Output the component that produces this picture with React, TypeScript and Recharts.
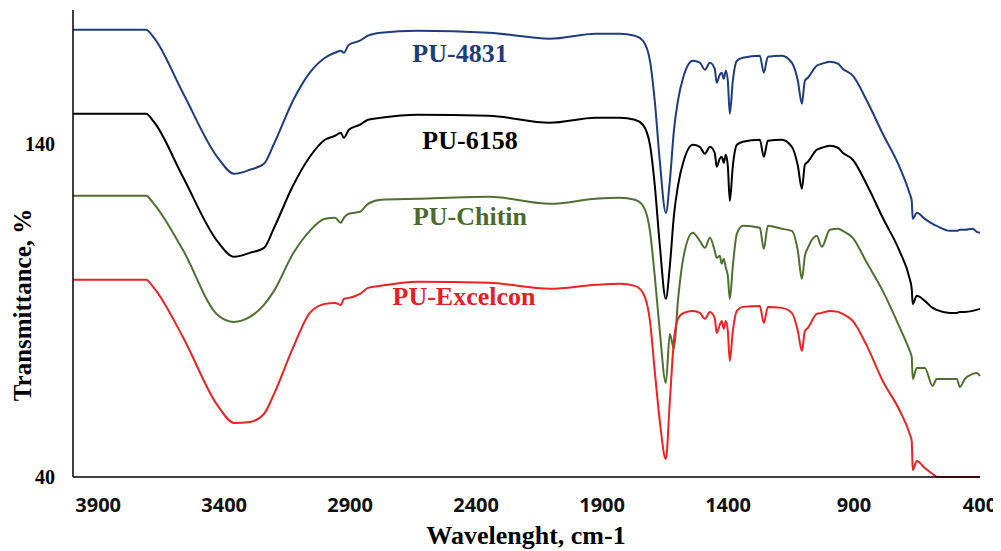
import React from 'react';
import { LineChart, Line, XAxis, YAxis, Customized } from 'recharts';

// wavenumber grid (cm-1), shared by all four spectra
const wavenumbers = [
  4000, 3710, 3679, 3564, 3425, 3361, 3298, 3242, 3202, 3127,
  3060, 3000, 2960, 2937, 2925, 2905, 2861, 2829, 2778, 2635,
  2349, 2107, 1925, 1830, 1770, 1738, 1710, 1691, 1671, 1647,
  1631, 1615, 1599, 1576, 1540, 1512, 1492, 1472, 1453, 1445,
  1433, 1425, 1417, 1409, 1401, 1393, 1381, 1365, 1341, 1274,
  1258, 1242, 1187, 1147, 1123, 1107, 1095, 1083, 1048, 1028,
  996, 964, 945, 905, 849, 786, 718, 679, 671, 667,
  651, 619, 588, 572, 520, 492, 480, 460, 429, 413,
  400,
];

const pu4831 = [
  174.1, 174.1, 171.7, 155.2, 135.7, 130.9, 132.1, 133.9, 139.9, 152.8,
  161.2, 165.7, 167.2, 167.8, 167.2, 169.6, 170.8, 172.3, 173.2, 173.8,
  173.2, 171.4, 172.9, 172.9, 172.3, 170.8, 164.8, 152.8, 134.8, 119.2,
  128.8, 143.8, 152.8, 160.3, 164.8, 164.2, 162.1, 164.2, 162.4, 158.2,
  160.6, 161.2, 159.4, 161.8, 158.8, 148.9, 158.8, 164.8, 165.7, 166.3,
  161.2, 166.0, 166.3, 164.2, 158.8, 151.9, 158.8, 159.7, 163.3, 163.9,
  164.5, 163.9, 162.4, 160.3, 152.8, 142.9, 132.7, 124.9, 122.8, 117.4,
  119.2, 117.4, 115.9, 115.3, 113.8, 113.8, 114.1, 114.1, 114.4, 113.5,
  113.2,
];

const pu6158 = [
  148.9, 148.9, 146.5, 130.0, 110.5, 106.0, 107.2, 108.7, 114.7, 127.3,
  136.0, 141.1, 142.3, 143.2, 141.7, 144.1, 145.6, 147.1, 147.7, 148.6,
  148.3, 146.2, 147.7, 147.7, 147.1, 145.6, 139.6, 127.6, 109.6, 93.4,
  103.3, 118.3, 127.3, 134.8, 139.6, 139.0, 136.9, 139.0, 137.2, 133.0,
  135.4, 136.0, 134.2, 136.6, 133.3, 122.8, 133.3, 139.6, 140.5, 141.1,
  136.0, 140.8, 141.1, 139.0, 133.3, 126.4, 133.6, 134.5, 138.1, 138.7,
  139.3, 138.7, 137.2, 135.1, 127.6, 117.7, 107.5, 99.4, 96.4, 91.9,
  94.3, 92.8, 90.7, 90.1, 89.2, 89.2, 89.5, 89.5, 89.8, 90.1,
  90.4,
];

const puChitin = [
  124.3, 124.3, 121.9, 108.1, 88.5, 86.5, 88.0, 91.6, 95.8, 106.9,
  113.8, 117.4, 117.7, 116.2, 117.7, 118.9, 119.5, 121.9, 123.1, 123.4,
  124.0, 121.9, 123.4, 123.7, 123.1, 121.3, 113.8, 100.3, 83.8, 68.2,
  82.9, 78.4, 92.8, 106.3, 113.2, 110.8, 108.7, 111.7, 107.8, 105.7,
  106.3, 103.9, 105.4, 102.7, 100.3, 93.4, 103.3, 112.9, 115.3, 114.7,
  108.4, 115.3, 114.4, 113.8, 107.8, 99.4, 106.3, 108.7, 112.3, 109.0,
  114.1, 114.4, 113.8, 111.7, 104.2, 95.8, 84.7, 77.8, 76.0, 69.4,
  72.7, 72.7, 67.3, 69.4, 69.4, 69.4, 67.0, 69.4, 70.9, 71.2,
  70.3,
];

const puExcelcon = [
  99.1, 99.1, 96.7, 82.0, 61.3, 56.2, 56.5, 58.9, 64.9, 78.7,
  89.2, 91.9, 92.2, 91.6, 93.4, 93.7, 94.9, 96.7, 97.3, 98.5,
  98.2, 96.4, 97.6, 97.9, 97.3, 95.2, 86.8, 71.8, 56.8, 45.4,
  62.8, 80.8, 87.4, 89.2, 89.8, 89.2, 87.4, 89.5, 87.7, 83.2,
  85.6, 86.8, 84.4, 86.8, 83.8, 74.8, 83.8, 89.8, 91.0, 91.3,
  86.2, 91.0, 90.7, 89.2, 83.8, 77.8, 83.8, 84.7, 88.9, 89.2,
  89.8, 89.5, 88.9, 86.8, 79.3, 68.8, 59.8, 52.9, 50.8, 42.1,
  44.8, 42.7, 40.9, 40.1, 40.0, 40.0, 40.0, 40.0, 40.0, 40.0,
  40.0,
];

const xTicks = [3900, 3400, 2900, 2400, 1900, 1400, 900, 400];
const yTicks = [40, 140];

const data = wavenumbers.map((wn, i) => ({
  wn,
  pu4831: pu4831[i],
  pu6158: pu6158[i],
  chitin: puChitin[i],
  excelcon: puExcelcon[i],
}));

const serif = '"Liberation Serif", "Times New Roman", serif';

const Annotations = () => (
  <g fontFamily={serif} fontWeight="bold">
    <text x={452} y={54} textAnchor="middle" fontSize={26} fill="#1f3b78">PU-4831</text>
    <text x={462} y={141} textAnchor="middle" fontSize={26} fill="#000">PU-6158</text>
    <text x={462} y={217} textAnchor="middle" fontSize={26} fill="#4b6b2c">PU-Chitin</text>
    <text x={456} y={297} textAnchor="middle" fontSize={26} fill="#e31e24">PU-Excelcon</text>
    <text x={518} y={536} textAnchor="middle" fontSize={26} fill="#000">Wavelenght, cm-1</text>
    <text
      x={14}
      y={297}
      textAnchor="middle"
      dominantBaseline="central"
      fontSize={25}
      fill="#000"
      transform="rotate(-90 14 297)"
    >
      Transmittance, %
    </text>
  </g>
);

export default function App() {
  return (
    <LineChart width={993} height={543} data={data} margin={{ top: 2, right: 21, bottom: 0, left: 0 }}>
      <XAxis
        dataKey="wn"
        type="number"
        domain={[400, 4000]}
        reversed
        ticks={xTicks}
        interval={0}
        height={74}
        tickLine={false}
        tickSize={0}
        tickMargin={21}
        axisLine={{ stroke: '#000', strokeWidth: 1.5 }}
        tick={{ fill: '#111', fontSize: 20, fontWeight: 700, fontFamily: '"Open Sans", sans-serif' }}
      />
      <YAxis
        type="number"
        domain={[40, 180]}
        ticks={yTicks}
        width={65}
        tickLine={false}
        tickSize={0}
        tickMargin={18}
        axisLine={{ stroke: '#000', strokeWidth: 1.5 }}
        tick={{ fill: '#000', fontSize: 20, fontWeight: 700, fontFamily: serif }}
      />
      <Line type="monotone" dataKey="pu4831" stroke="#1f3d7d" strokeWidth={2} dot={false} isAnimationActive={false} />
      <Line type="monotone" dataKey="pu6158" stroke="#000000" strokeWidth={2} dot={false} isAnimationActive={false} />
      <Line type="monotone" dataKey="chitin" stroke="#4f7033" strokeWidth={2} dot={false} isAnimationActive={false} />
      <Line type="monotone" dataKey="excelcon" stroke="#ee2222" strokeWidth={2} dot={false} isAnimationActive={false} />
      <Customized component={Annotations} />
    </LineChart>
  );
}
